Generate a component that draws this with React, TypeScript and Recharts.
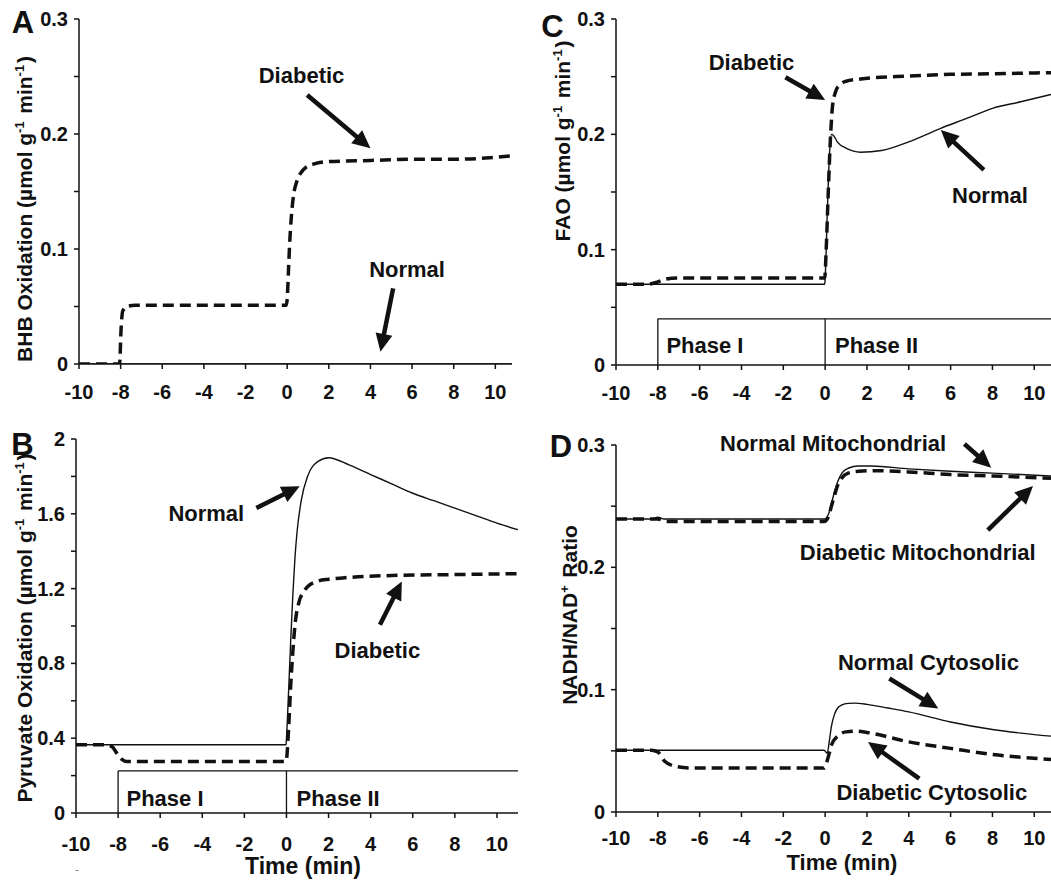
import React from "react"
import { LineChart, Line, XAxis, YAxis, ReferenceLine, ReferenceDot } from "recharts"

const FONT = "'Liberation Sans', Arial, Helvetica, sans-serif"
const INK = "#111"

// axis ticks
const timeTicks = [-10, -8, -6, -4, -2, 0, 2, 4, 6, 8, 10]
const ratioTicks = [0, 0.05, 0.1, 0.15, 0.2, 0.25, 0.3]
const pyruvateTicks = [0, 0.2, 0.4, 0.6, 0.8, 1, 1.2, 1.4, 1.6, 1.8, 2]

// A - BHB oxidation
const bhbNormalT = [-10, 10.8]
const bhbNormal = [0, 0]
const bhbDiabeticT = [-10, -8.05, -7.98, -7.9, -7.7, -7.3, -4, -0.05, 0, 0.06, 0.12, 0.2, 0.3, 0.45, 0.65, 0.9, 1.3, 2, 4, 6, 8, 10.8]
const bhbDiabetic = [0, 0, 0.03, 0.046, 0.05, 0.051, 0.051, 0.051, 0.056, 0.08, 0.105, 0.128, 0.146, 0.158, 0.166, 0.171, 0.174, 0.176, 0.177, 0.178, 0.178, 0.181]

// B - pyruvate oxidation
const pyrNormalT = [-10, -0.02, 0, 0.1, 0.2, 0.3, 0.4, 0.5, 0.7, 1, 1.5, 2, 3, 4, 5, 6, 7, 8, 9, 10, 11]
const pyrNormal = [0.365, 0.365, 0.4, 0.65, 0.92, 1.16, 1.36, 1.5, 1.67, 1.8, 1.88, 1.9, 1.86, 1.81, 1.76, 1.71, 1.67, 1.63, 1.59, 1.55, 1.515]
const pyrDiabeticT = [-10, -8.6, -8.3, -8.0, -7.8, -7.6, -4, -0.02, 0.1, 0.2, 0.3, 0.4, 0.6, 0.8, 1, 1.5, 2, 3, 5, 8, 11]
const pyrDiabetic = [0.365, 0.365, 0.355, 0.31, 0.285, 0.275, 0.275, 0.275, 0.45, 0.68, 0.86, 1.0, 1.13, 1.18, 1.21, 1.24, 1.25, 1.26, 1.27, 1.275, 1.28]

// C - fatty acid oxidation
const faoNormalT = [-10, -0.02, 0, 0.1, 0.2, 0.3, 0.4, 0.6, 1, 1.7, 2.7, 4, 5.5, 6.8, 8, 9.3, 10.8]
const faoNormal = [0.07, 0.07, 0.075, 0.13, 0.18, 0.2, 0.199, 0.193, 0.188, 0.1845, 0.186, 0.1935, 0.205, 0.214, 0.2225, 0.228, 0.2345]
const faoDiabeticT = [-10, -8.5, -8, -7.6, -7, -0.02, 0.05, 0.15, 0.25, 0.35, 0.5, 0.7, 1, 1.7, 4, 6, 8, 10.8]
const faoDiabetic = [0.07, 0.07, 0.072, 0.0745, 0.0755, 0.0755, 0.1, 0.15, 0.195, 0.224, 0.237, 0.243, 0.246, 0.248, 0.2505, 0.252, 0.2525, 0.2535]

// D - NADH/NAD+ ratio
const mitoNormalT = [-10, -8.3, -8, -7.7, -0.05, 0.15, 0.3, 0.45, 0.6, 0.8, 1.1, 1.6, 2.2, 4, 6, 8, 10.8]
const mitoNormal = [0.2395, 0.2395, 0.241, 0.2395, 0.2395, 0.243, 0.252, 0.262, 0.27, 0.277, 0.281, 0.2828, 0.2828, 0.2805, 0.2785, 0.277, 0.2747]
const mitoDiabeticT = [-10, -8.3, -8, -7.6, -0.05, 0.15, 0.3, 0.45, 0.6, 0.8, 1.1, 1.6, 2.2, 4, 6, 8, 10.8]
const mitoDiabetic = [0.2395, 0.2395, 0.2395, 0.2375, 0.2375, 0.241, 0.25, 0.259, 0.267, 0.273, 0.277, 0.2785, 0.279, 0.278, 0.2758, 0.2747, 0.2728]
const cytoNormalT = [-10, -0.05, 0.1, 0.2, 0.3, 0.45, 0.6, 0.8, 1.1, 1.4, 2, 3, 4, 6, 8, 10.8]
const cytoNormal = [0.0505, 0.0505, 0.048, 0.058, 0.07, 0.08, 0.085, 0.0875, 0.0888, 0.089, 0.088, 0.085, 0.0818, 0.0736, 0.0674, 0.062]
const cytoDiabeticT = [-10, -8.3, -8, -7.7, -7.3, -6.5, -0.05, 0.15, 0.3, 0.6, 1, 1.5, 2, 4, 6, 8, 10.8]
const cytoDiabetic = [0.0505, 0.0505, 0.049, 0.042, 0.038, 0.036, 0.036, 0.045, 0.0546, 0.062, 0.0655, 0.066, 0.065, 0.0573, 0.052, 0.047, 0.043]

type Pt = { t: number; v: number }
type Series = { name: string; data: Pt[]; dashed: boolean }
type Note = { text: string; x: number; y: number; anchor?: "start" | "middle" }
type Seg = [number, number, number, number]

const zip = (t: number[], v: number[]): Pt[] => t.map((x, i) => ({ t: x, v: v[i] }))

// annotations, in data units
const notesA: Note[] = [
  { text: "Diabetic", x: 0.69, y: 0.2443 },
  { text: "Normal", x: 5.76, y: 0.0759 },
]
const arrowsA: Seg[] = [
  [0.96, 0.2339, 4.0, 0.1876],
  [5.09, 0.0658, 4.48, 0.0107],
]
const notesB: Note[] = [
  { text: "Normal", x: -3.81, y: 1.56 },
  { text: "Diabetic", x: 4.32, y: 0.829 },
  { text: "Phase I", x: -7.6, y: 0.039, anchor: "start" },
  { text: "Phase II", x: 0.48, y: 0.039, anchor: "start" },
]
const arrowsB: Seg[] = [
  [-1.43, 1.631, 0.63, 1.747],
  [4.44, 1.007, 5.48, 1.238],
]
const phaseB: Seg[] = [
  [-8, 0.225, 11, 0.225],
  [-8, 0, -8, 0.225],
  [0, 0, 0, 0.225],
]
const notesC: Note[] = [
  { text: "Diabetic", x: -3.52, y: 0.2558 },
  { text: "Normal", x: 7.88, y: 0.1402 },
  { text: "Phase I", x: -7.59, y: 0.0107, anchor: "start" },
  { text: "Phase II", x: 0.47, y: 0.0107, anchor: "start" },
]
const arrowsC: Seg[] = [
  [-1.9, 0.2495, 0, 0.2298],
  [7.59, 0.1691, 5.53, 0.2038],
]
const phaseC: Seg[] = [
  [-8, 0.04, 10.8, 0.04],
  [-8, 0, -8, 0.04],
  [0, 0, 0, 0.04],
]
const notesD: Note[] = [
  { text: "Normal Mitochondrial", x: 0.38, y: 0.2954 },
  { text: "Diabetic Mitochondrial", x: 4.43, y: 0.2059 },
  { text: "Normal Cytosolic", x: 4.94, y: 0.1159 },
  { text: "Diabetic Cytosolic", x: 5.1, y: 0.0096 },
]
const arrowsD: Seg[] = [
  [6.66, 0.3008, 7.94, 0.2815],
  [7.78, 0.2305, 9.94, 0.2665],
  [3.07, 0.1091, 5.41, 0.0846],
  [4.5, 0.0273, 2.05, 0.0573],
]

const arrowShape = (p: any) => {
  const { x1, y1, x2, y2 } = p
  const dx = x2 - x1
  const dy = y2 - y1
  const len = Math.hypot(dx, dy) || 1
  const ux = dx / len
  const uy = dy / len
  const hl = 18
  const hw = 8.5
  const bx = x2 - ux * hl
  const by = y2 - uy * hl
  return (
    <g>
      <line x1={x1} y1={y1} x2={bx + ux * 2} y2={by + uy * 2} stroke={INK} strokeWidth={4.5} />
      <polygon points={`${x2},${y2} ${bx - uy * hw},${by + ux * hw} ${bx + uy * hw},${by - ux * hw}`} fill={INK} />
    </g>
  )
}

const noteShape = (n: Note) => (p: any) => (
  <text x={p.cx} y={p.cy} textAnchor={n.anchor || "middle"} fontFamily={FONT} fontWeight={700} fontSize={22} fill={INK}>
    {n.text}
  </text>
)

const plainLine = (p: any) => <line x1={p.x1} y1={p.y1} x2={p.x2} y2={p.y2} stroke={INK} strokeWidth={1.3} />

const tickText = { fill: INK, fontSize: 20, fontWeight: 700, fontFamily: FONT }

// x tick labels: baseline a fixed distance under the axis line
const makeXTick = (axisY: number, baseline: number) => (p: any) => (
  <text x={p.x} y={axisY + baseline} textAnchor="middle" {...tickText}>
    {p.payload.value}
  </text>
)

// y tick labels: only every `every`, right aligned 11px left of the axis
const makeYTick = (axisX: number, every: number) => (p: any) => {
  const v = p.payload.value
  const k = v / every
  if (Math.abs(k - Math.round(k)) > 1e-6) return <g />
  return (
    <text x={axisX - 11} y={p.y} dy={7} textAnchor="end" {...tickText}>
      {String(Math.round(v * 100) / 100)}
    </text>
  )
}

type PanelProps = {
  left: number
  top: number
  width: number
  height: number
  plotLeft: number
  plotTop: number
  plotRight: number
  plotBottom: number
  tickBaseline: number
  xMax: number
  yMax: number
  yTicks: number[]
  yLabelEvery: number
  series: Series[]
  notes: Note[]
  arrows: Seg[]
  phases?: Seg[]
}

function Panel(props: PanelProps) {
  const { left, top, width, height, plotLeft, plotTop, plotRight, plotBottom, tickBaseline, xMax, yMax, yTicks, yLabelEvery, series, notes, arrows, phases } = props
  return (
    <div style={{ position: "absolute", left, top, width, height }}>
      <LineChart
        width={width}
        height={height}
        margin={{ top: plotTop, right: width - plotRight, bottom: 0, left: 0 }}
      >
        <XAxis
          type="number"
          dataKey="t"
          domain={[-10, xMax]}
          ticks={timeTicks}
          interval={0}
          allowDataOverflow
          height={height - plotBottom}
          tick={makeXTick(plotBottom, tickBaseline)}
          tickSize={5}
          axisLine={{ stroke: INK, strokeWidth: 1.5 }}
          tickLine={{ stroke: INK, strokeWidth: 1.5 }}
        />
        <YAxis
          type="number"
          dataKey="v"
          domain={[0, yMax]}
          ticks={yTicks}
          interval={0}
          allowDataOverflow
          width={plotLeft}
          tick={makeYTick(plotLeft, yLabelEvery)}
          tickSize={5}
          axisLine={{ stroke: INK, strokeWidth: 1.5 }}
          tickLine={{ stroke: INK, strokeWidth: 1.5 }}
        />
        {(phases || []).map((s, i) => (
          <ReferenceLine
            key={"ph" + i}
            segment={[{ x: s[0], y: s[1] }, { x: s[2], y: s[3] }]}
            ifOverflow="visible"
            shape={plainLine}
          />
        ))}
        {series.map((s) => (
          <Line
            key={s.name}
            data={s.data}
            dataKey="v"
            name={s.name}
            type="monotone"
            stroke={INK}
            strokeWidth={s.dashed ? 3.5 : 1.4}
            strokeDasharray={s.dashed ? "11 6" : undefined}
            dot={false}
            activeDot={false}
            isAnimationActive={false}
          />
        ))}
        {arrows.map((a, i) => (
          <ReferenceLine
            key={"ar" + i}
            segment={[{ x: a[0], y: a[1] }, { x: a[2], y: a[3] }]}
            ifOverflow="visible"
            shape={arrowShape}
          />
        ))}
        {notes.map((n, i) => (
          <ReferenceDot key={"nt" + i} x={n.x} y={n.y} r={0} ifOverflow="visible" shape={noteShape(n)} />
        ))}
      </LineChart>
    </div>
  )
}

const sup = (s: string) => (
  <>
    <tspan dy={-8} fontSize={13}>{s}</tspan>
    <tspan dy={8}>{"\u200a"}</tspan>
  </>
)

export default function App() {
  const titleStyle = { fontFamily: FONT, fontWeight: 700, fontSize: 21, fill: INK } as const
  const letterStyle = { fontFamily: FONT, fontWeight: 700, fontSize: 31, fill: INK } as const
  return (
    <div style={{ position: "absolute", left: 0, top: 0, width: 1051, height: 882, background: "#fff" }}>
      <Panel
        left={0} top={0} width={530} height={420}
        plotLeft={79} plotTop={19} plotRight={512} plotBottom={364} tickBaseline={35}
        xMax={10.8} yMax={0.3} yTicks={ratioTicks} yLabelEvery={0.1}
        series={[
          { name: "Normal", data: zip(bhbNormalT, bhbNormal), dashed: false },
          { name: "Diabetic", data: zip(bhbDiabeticT, bhbDiabetic), dashed: true },
        ]}
        notes={notesA} arrows={arrowsA}
      />
      <Panel
        left={0} top={420} width={530} height={462}
        plotLeft={76} plotTop={19} plotRight={518} plotBottom={393} tickBaseline={38}
        xMax={11} yMax={2} yTicks={pyruvateTicks} yLabelEvery={0.4}
        series={[
          { name: "Normal", data: zip(pyrNormalT, pyrNormal), dashed: false },
          { name: "Diabetic", data: zip(pyrDiabeticT, pyrDiabetic), dashed: true },
        ]}
        notes={notesB} arrows={arrowsB} phases={phaseB}
      />
      <Panel
        left={530} top={0} width={521} height={420}
        plotLeft={86} plotTop={19} plotRight={521} plotBottom={365} tickBaseline={35}
        xMax={10.8} yMax={0.3} yTicks={ratioTicks} yLabelEvery={0.1}
        series={[
          { name: "Normal", data: zip(faoNormalT, faoNormal), dashed: false },
          { name: "Diabetic", data: zip(faoDiabeticT, faoDiabetic), dashed: true },
        ]}
        notes={notesC} arrows={arrowsC} phases={phaseC}
      />
      <Panel
        left={530} top={420} width={521} height={462}
        plotLeft={86} plotTop={25} plotRight={521} plotBottom={392} tickBaseline={33}
        xMax={10.8} yMax={0.3} yTicks={ratioTicks} yLabelEvery={0.1}
        series={[
          { name: "Normal Mitochondrial", data: zip(mitoNormalT, mitoNormal), dashed: false },
          { name: "Diabetic Mitochondrial", data: zip(mitoDiabeticT, mitoDiabetic), dashed: true },
          { name: "Normal Cytosolic", data: zip(cytoNormalT, cytoNormal), dashed: false },
          { name: "Diabetic Cytosolic", data: zip(cytoDiabeticT, cytoDiabetic), dashed: true },
        ]}
        notes={notesD} arrows={arrowsD}
      />
      <svg width={1051} height={882} style={{ position: "absolute", left: 0, top: 0, pointerEvents: "none" }}>
        <text x={23} y={33} textAnchor="middle" {...letterStyle}>A</text>
        <text x={22.5} y={455} textAnchor="middle" {...letterStyle}>B</text>
        <text x={552.5} y={37} textAnchor="middle" {...letterStyle}>C</text>
        <text x={561} y={457} textAnchor="middle" {...letterStyle}>D</text>

        <text transform="translate(32,209) rotate(-90)" textAnchor="middle" {...titleStyle}>
          BHB Oxidation (µmol g{sup("-1")} min{sup("-1")})
        </text>
        <text transform="translate(32,628) rotate(-90)" textAnchor="middle" {...titleStyle}>
          Pyruvate Oxidation (µmol g{sup("-1")} min{sup("-1")})
        </text>
        <text transform="translate(570,141) rotate(-90)" textAnchor="middle" {...titleStyle}>
          FAO (µmol g{sup("-1")} min{sup("-1")})
        </text>
        <text transform="translate(577,615) rotate(-90)" textAnchor="middle" {...titleStyle}>
          NADH/NAD{sup("+")} Ratio
        </text>

        <text x={303} y={874} textAnchor="middle" fontFamily={FONT} fontWeight={700} fontSize={23} fill={INK}>Time (min)</text>
        <text x={842} y={870} textAnchor="middle" fontFamily={FONT} fontWeight={700} fontSize={22} fill={INK}>Time (min)</text>
        <text x={77} y={874} textAnchor="middle" fontFamily={FONT} fontSize={12} fill="#888">-</text>
      </svg>
    </div>
  )
}
